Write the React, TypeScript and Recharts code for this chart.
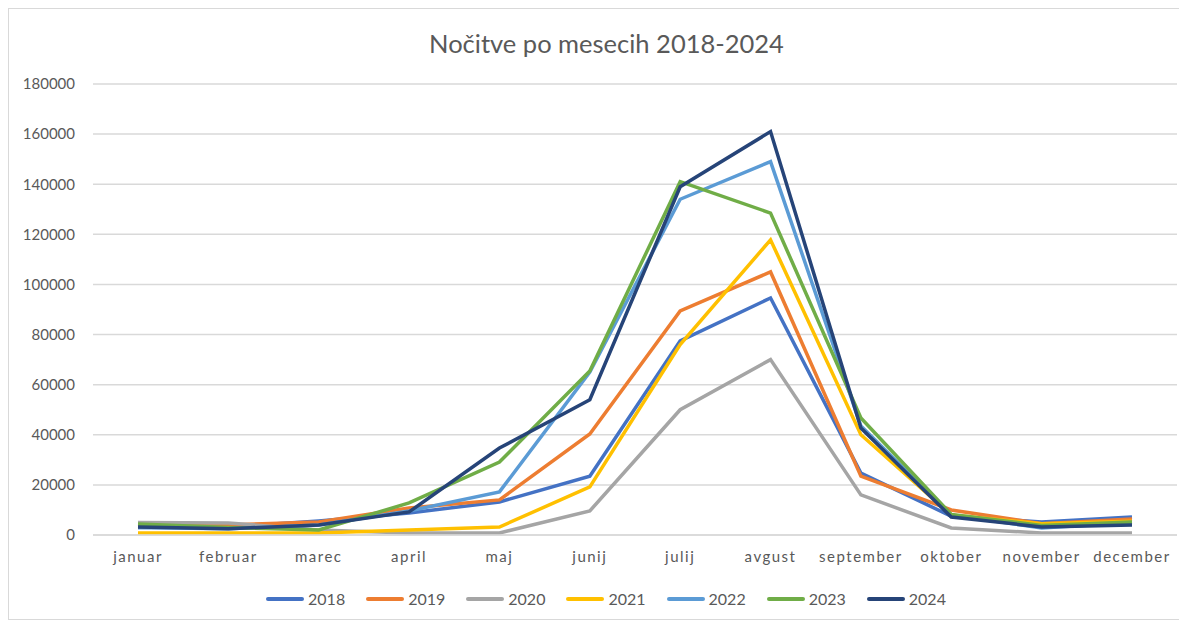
import React from "react";
import { LineChart, Line, XAxis, YAxis, CartesianGrid, Legend } from "recharts";

const months = ["januar", "februar", "marec", "april", "maj", "junij", "julij", "avgust", "september", "oktober", "november", "december"];
const y2018 = [3000, 3200, 5600, 8800, 13200, 23500, 77500, 94600, 24700, 7500, 5200, 7200];
const y2019 = [3500, 4000, 5200, 10800, 14000, 40300, 89400, 105000, 23500, 10000, 4500, 6400];
const y2020 = [5000, 4800, 2000, 800, 800, 9600, 50000, 70000, 16000, 2800, 800, 800];
const y2021 = [800, 800, 800, 2000, 3200, 19200, 76000, 117800, 40000, 8000, 4500, 5500];
const y2022 = [3000, 2500, 4000, 9600, 17200, 65000, 134000, 149000, 43500, 8000, 2800, 5000];
const y2023 = [4400, 3000, 2000, 12800, 29100, 65500, 141000, 128500, 46700, 8200, 3800, 5200];
const y2024 = [3200, 2500, 4000, 9200, 34700, 54000, 139000, 161000, 42700, 7200, 3200, 4000];
const yTicks = [0, 20000, 40000, 60000, 80000, 100000, 120000, 140000, 160000, 180000];

const seriesNames = ["2018", "2019", "2020", "2021", "2022", "2023", "2024"];
const seriesValues = [y2018, y2019, y2020, y2021, y2022, y2023, y2024];
const colors = ["#4472C4", "#ED7D31", "#A5A5A5", "#FFC000", "#5B9BD5", "#70AD47", "#264478"];

const data = months.map((m, i) => {
  const row: Record<string, string | number> = { month: m };
  seriesNames.forEach((s, k) => {
    row[s] = seriesValues[k][i];
  });
  return row;
});

const FONT = "Lato, 'Open Sans', sans-serif";

const XTick = (props: any) => {
  const { x, y, payload } = props;
  return (
    <text x={x} y={y + 19} textAnchor="middle" fill="#595959" fontSize={15} fontFamily={FONT} style={{ letterSpacing: "1.5px" }}>
      {payload.value}
    </text>
  );
};

const LegendContent = () => (
  <div style={{ display: "flex", justifyContent: "center", paddingLeft: 18, fontFamily: FONT, fontSize: 16, color: "#595959" }}>
    {seriesNames.map((s, k) => (
      <div key={s} style={{ display: "flex", alignItems: "center", marginRight: k < seriesNames.length - 1 ? 20 : 0 }}>
        <svg width={40} height={10}>
          <line x1={3} y1={5} x2={37} y2={5} stroke={colors[k]} strokeWidth={4} strokeLinecap="round" />
        </svg>
        <span style={{ marginLeft: 3 }}>{s}</span>
      </div>
    ))}
  </div>
);

export default function App() {
  return (
    <div style={{ position: "relative", width: 1177, height: 612, border: "1px solid #d9d9d9", boxSizing: "border-box", background: "#fff" }}>
      <div style={{ position: "absolute", top: 19, left: 10, width: "100%", textAlign: "center", fontFamily: FONT, fontSize: 25.5, color: "#595959" }}>
        Nočitve po mesecih 2018-2024
      </div>
      <LineChart width={1175} height={610} data={data} margin={{ top: 75, right: 7, bottom: 44, left: 0 }}>
        <CartesianGrid vertical={false} stroke="#d9d9d9" strokeWidth={1.5} />
        <XAxis
          dataKey="month"
          tick={<XTick />}
          tickLine={false}
          axisLine={{ stroke: "#d9d9d9", strokeWidth: 1.5 }}
          height={40}
          interval={0}
          padding={{ left: 45, right: 45 }}
        />
        <YAxis
          domain={[0, 180000]}
          ticks={yTicks}
          width={84}
          axisLine={false}
          tickLine={false}
          tickMargin={12}
          tick={{ fill: "#595959", fontSize: 15, fontFamily: FONT }}
        />
        <Legend verticalAlign="middle" align="center" content={<LegendContent />} wrapperStyle={{ top: 580, left: 0, width: 1175 }} />
        {seriesNames.map((s, k) => (
          <Line key={s} type="linear" dataKey={s} stroke={colors[k]} strokeWidth={3.5} dot={false} isAnimationActive={false} />
        ))}
      </LineChart>
    </div>
  );
}
